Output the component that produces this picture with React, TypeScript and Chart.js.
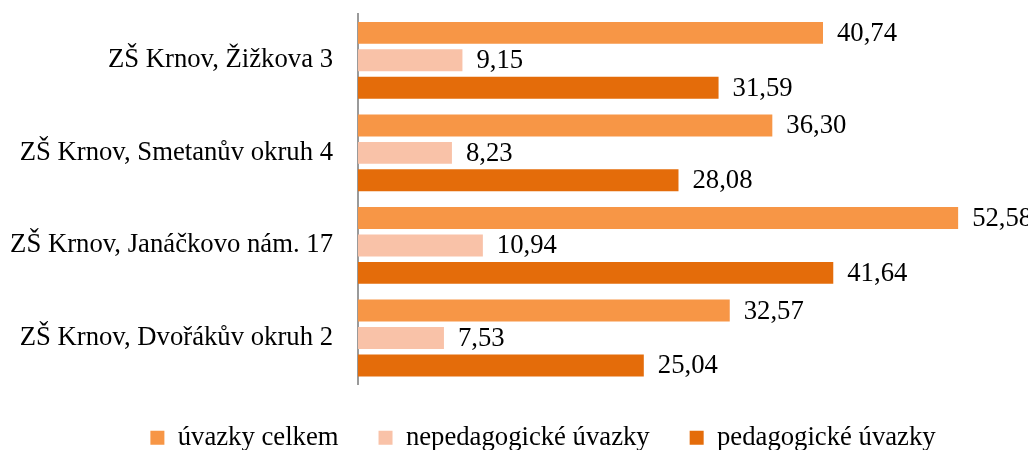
import React, { useEffect, useRef } from "react";
import { Chart, registerables } from "chart.js";

Chart.register(...registerables);

const categories = [
  "ZŠ Krnov, Žižkova 3",
  "ZŠ Krnov, Smetanův okruh 4",
  "ZŠ Krnov, Janáčkovo nám. 17",
  "ZŠ Krnov, Dvořákův okruh 2",
];
const seriesNames = ["úvazky celkem", "nepedagogické úvazky", "pedagogické úvazky"];
const celkem = [40.74, 36.3, 52.58, 32.57];
const nepedagogicke = [9.15, 8.23, 10.94, 7.53];
const pedagogicke = [31.59, 28.08, 41.64, 25.04];
const colors = ["#F79646", "#F9C2A8", "#E46C0A"];

const FONT = "'Liberation Serif', 'Times New Roman', serif";
const FS = 26.7;
const W = 1020;
const H = 453;
const LEGEND_SHIFT = 29;

const valueLabels = {
  id: "valueLabels",
  afterDatasetsDraw(chart: any) {
    const ctx = chart.ctx;
    ctx.save();
    ctx.font = `${FS}px ${FONT}`;
    ctx.fillStyle = "#000";
    ctx.textBaseline = "middle";
    ctx.textAlign = "left";
    chart.data.datasets.forEach((ds: any, di: number) => {
      const meta = chart.getDatasetMeta(di);
      meta.data.forEach((bar: any, i: number) => {
        const v = ds.data[i] as number;
        ctx.fillText(v.toFixed(2).replace(".", ","), bar.x + 14, bar.y + 1);
      });
    });
    ctx.restore();
  },
};

const legendShift = {
  id: "legendShift",
  afterLayout(chart: any) {
    const lg = chart.legend;
    if (lg) {
      lg.left += LEGEND_SHIFT;
      lg.right += LEGEND_SHIFT;
    }
  },
};

export default function App() {
  const ref = useRef<HTMLCanvasElement | null>(null);
  useEffect(() => {
    document.documentElement.style.overflow = "hidden";
    const data = [celkem, nepedagogicke, pedagogicke];
    const chart = new Chart(ref.current as HTMLCanvasElement, {
      type: "bar",
      data: {
        labels: categories,
        datasets: seriesNames.map((name, i) => ({
          label: name,
          data: data[i],
          backgroundColor: colors[i],
          borderWidth: 0,
          categoryPercentage: 0.889,
          barPercentage: 0.8,
        })),
      },
      options: {
        indexAxis: "y",
        responsive: false,
        animation: false,
        layout: { padding: { left: 0, right: 8, top: 6, bottom: 0 } },
        scales: {
          x: { display: false, min: 0, max: 58 },
          y: {
            grid: { display: false, drawTicks: false },
            border: { display: true, color: "#9a9a9a", width: 2 },
            ticks: { color: "#000", font: { family: FONT, size: FS }, padding: 25 },
            afterFit: (scale: any) => {
              scale.width = 350;
              scale.paddingTop = 0;
              scale.paddingBottom = 0;
            },
          },
        },
        plugins: {
          legend: {
            position: "bottom",
            labels: {
              boxWidth: 14,
              boxHeight: 14,
              padding: 40,
              color: "#000",
              font: { family: FONT, size: FS },
            },
          },
          tooltip: { enabled: false },
        },
      },
      plugins: [valueLabels, legendShift],
    });
    return () => chart.destroy();
  }, []);
  return (
    <div style={{ width: W, height: H }}>
      <canvas ref={ref} width={W} height={H} style={{ width: W, height: H, display: "block" }} />
    </div>
  );
}
